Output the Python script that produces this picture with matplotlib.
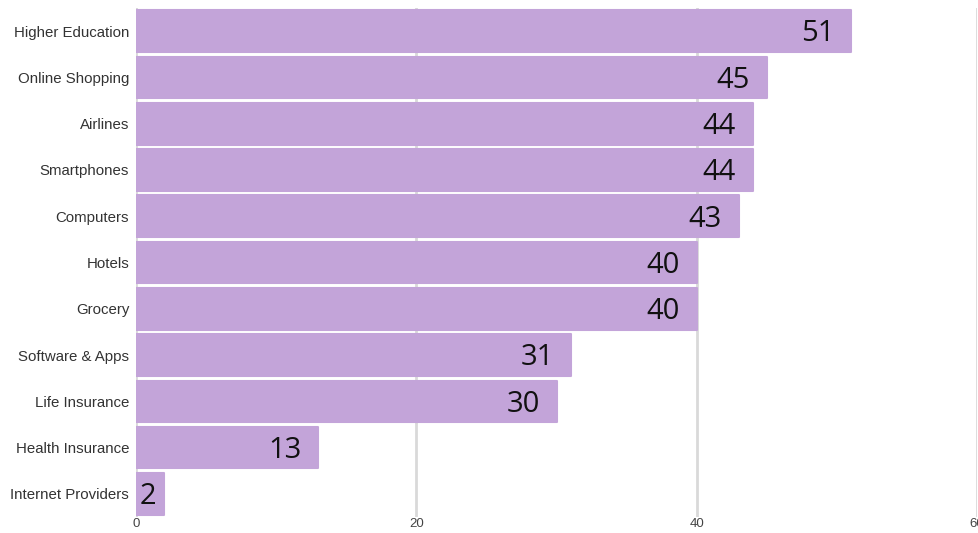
"""
Horizontal bar chart of scores by industry.
"""

import matplotlib
matplotlib.use('Agg')
import matplotlib.pyplot as plt

industries = ['Higher Education', 'Online Shopping', 'Airlines', 'Smartphones',
              'Computers', 'Hotels', 'Grocery', 'Software & Apps',
              'Life Insurance', 'Health Insurance', 'Internet Providers']
scores = [51, 45, 44, 44, 43, 40, 40, 31, 30, 13, 2]
x_ticks = [0, 20, 40, 60]

bar_color = '#c3a4d9'

fig = plt.figure(figsize=(9.79, 5.33), dpi=100)
ax = fig.add_axes([0.139, 0.030, 0.859, 0.955])

pos = list(range(len(industries)))
ax.barh(pos, scores, height=0.9, color=bar_color, edgecolor=bar_color,
        linewidth=1.5, joinstyle='round', zorder=2)

for p, v in zip(pos, scores):
    if v < 5:
        ax.text(0.25, p + 0.06, str(v), ha='left', va='center', fontsize=21,
                family='Open Sans', color='#111111', zorder=3)
    else:
        ax.text(v - 1.2, p + 0.06, str(v), ha='right', va='center', fontsize=21,
                family='Open Sans', color='#111111', zorder=3)

ax.set_ylim(len(industries) - 0.5, -0.5)
ax.set_xlim(0, 60)
ax.set_yticks(pos)
ax.set_yticklabels(industries, fontsize=10.8, family='Liberation Sans', color='#333333')
ax.set_xticks(x_ticks)
ax.set_xticklabels([str(t) for t in x_ticks], fontsize=9.5, family='Liberation Sans', color='#444444')
ax.tick_params(axis='both', length=0)
ax.tick_params(axis='y', pad=5)
ax.tick_params(axis='x', pad=1)
ax.xaxis.grid(True, color='#d9d9d9', linewidth=2, zorder=0)
ax.set_axisbelow(True)
for s in ax.spines.values():
    s.set_visible(False)

fig.savefig('out.png', dpi=100)
